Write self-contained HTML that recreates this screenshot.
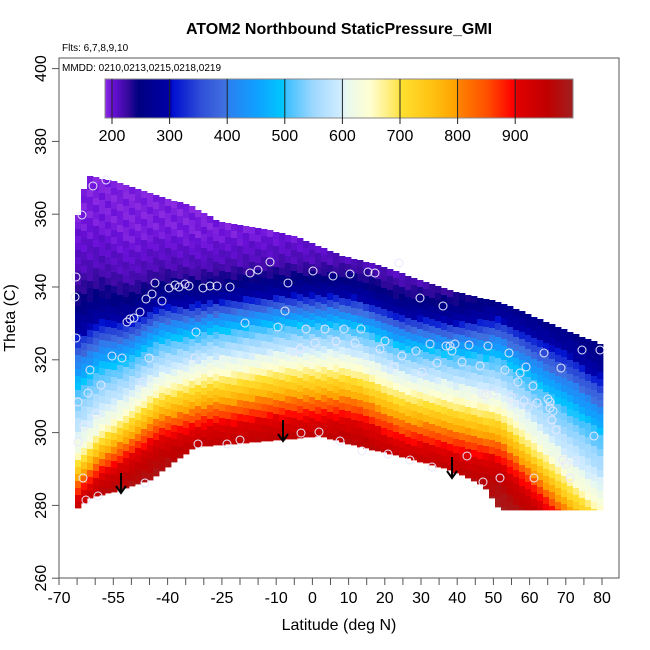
<!DOCTYPE html>
<html><head><meta charset="utf-8"><style>
html,body{margin:0;padding:0;background:#fff}
svg{display:block}
text{font-family:"Liberation Sans",sans-serif}
</style></head><body>
<svg id="s" width="650" height="650" xmlns="http://www.w3.org/2000/svg">
<g id="heat"></g>
<g id="pts" fill="none" stroke="#e8e8ff" stroke-width="1"></g>
<g stroke="#000" stroke-width="2" fill="none">
<path d="M121 473V492M116 486L121 493L126 486"/>
<path d="M283 420V440M278 434L283 441L288 434"/>
<path d="M452 457V477M447 471L452 478L457 471"/>
</g>
<rect x="59" y="58" width="560" height="520" fill="none" stroke="#555" stroke-width="1"/>
<g id="cbar"></g>
<g id="axes" stroke="#555" stroke-width="1"></g>
<text x="339" y="34" font-size="16" font-weight="bold" text-anchor="middle">ATOM2 Northbound StaticPressure_GMI</text>
<text x="62" y="51" font-size="10">Flts: 6,7,8,9,10</text>
<text x="62" y="71" font-size="10">MMDD: 0210,0213,0215,0218,0219</text>
<text x="339" y="630" font-size="16" text-anchor="middle">Latitude (deg N)</text>
<text transform="translate(15,318) rotate(-90)" font-size="16" text-anchor="middle">Theta (C)</text>
<g id="lab" font-size="16"></g>
</svg>
<script>
var NS="http://www.w3.org/2000/svg";
function el(t,a,p){var e=document.createElementNS(NS,t);for(var k in a)e.setAttribute(k,a[k]);p.appendChild(e);return e;}
function interp(tab,x){if(x<=tab[0][0])return tab[0][1];for(var i=1;i<tab.length;i++){if(x<=tab[i][0]){var a=tab[i-1],b=tab[i];return a[1]+(b[1]-a[1])*(x-a[0])/(b[0]-a[0]);}}return tab[tab.length-1][1];}
var cs=[[188,"8a2be2"],[200,"6a10d8"],[225,"3a0aa0"],[245,"000080"],[300,"0000a8"],[305,"0010d0"],[355,"3050d8"],[395,"4070e0"],[402,"2a80f0"],[450,"10a0ff"],[497,"00c8ff"],[503,"40c0ff"],[550,"a0d8ff"],[596,"d0ecff"],[605,"e8f8f0"],[648,"ffffd0"],[690,"ffe860"],[702,"ffe030"],[757,"ffc010"],[797,"ffa000"],[803,"ff8000"],[850,"ff5000"],[895,"ff0000"],[903,"e00000"],[955,"c00000"],[1000,"a02020"]];
function h2(h){return[parseInt(h.substr(0,2),16),parseInt(h.substr(2,2),16),parseInt(h.substr(4,2),16)];}
function col(v){v=Math.max(188,Math.min(1000,v));for(var i=1;i<cs.length;i++){if(v<=cs[i][0]){var a=h2(cs[i-1][1]),b=h2(cs[i][1]),t=(v-cs[i-1][0])/(cs[i][0]-cs[i-1][0]);return "rgb("+[0,1,2].map(function(k){return Math.round(a[k]+(b[k]-a[k])*t)}).join(",")+")";}}return "#a02020";}
var cb=document.getElementById("cbar");
for(var x=105;x<573;x++){var v=188+(x-105)/(468)*812;el("rect",{x:x,y:79,width:1.2,height:39,fill:col(v)},cb);}
el("rect",{x:105,y:79,width:468,height:39,fill:"none",stroke:"#888"},cb);
var lab=document.getElementById("lab");
for(var i=0;i<8;i++){var tx=112+i*57.6;el("line",{x1:tx,x2:tx,y1:79,y2:124,stroke:"#222"},cb);var t=el("text",{x:tx,y:141,"text-anchor":"middle","font-size":"16"},lab);t.textContent=200+i*100;}
var y0t=[[75,455],[100,428],[120,415],[140,400],[160,385],[210,370],[280,363],[340,362],[360,366],[400,385],[453,395],[500,405],[537,442],[570,475],[603,505]];
var sut=[[75,1.8],[100,1.6],[130,1.3],[200,1.05],[340,1.0],[453,1.1],[500,1.3],[570,1.8],[603,1.9]];
var sdt=[[75,0.8],[160,0.95],[220,1.0],[540,1.0],[603,1.2]];
var topt=[[75,270],[78,215],[82,195],[88,176],[110,180],[140,190],[165,198],[190,205],[220,222],[270,230],[300,238],[340,255],[380,265],[420,280],[460,293],[500,302],[535,317],[568,331],[603,345]];
var bott=[[75,510],[90,498],[120,490],[150,480],[195,447],[300,438],[320,436],[360,447],[400,456],[450,470],[483,485],[500,510],[603,510]];
var vt=[[-200,188],[-130,195],[-100,215],[-83,245],[-66,300],[-55,380],[-45,440],[-36,500],[-23,550],[-10,600],[0,630],[15,700],[35,800],[52,890],[72,950],[100,995]];
var hm=document.getElementById("heat");
for(var cx=75;cx<603;cx+=6){var xm=cx+3;var tp=Math.round(interp(topt,xm)),bt=Math.round(interp(bott,xm));var y0=interp(y0t,xm),su=interp(sut,xm),sd=interp(sdt,xm);
for(var y=tp;y<bt;y+=7){var h=Math.min(7,bt-y);var d=(y+3.5-y0);d=d<0?d/su:d/sd;var v=interp(vt,d)+Math.sin(cx*0.7+y*0.3)*6;
el("rect",{x:cx,y:y,width:6.4,height:h+0.4,fill:col(v)},hm);}}
var P=[[75,297],[76,338],[76,277],[82,215],[78,402],[78,442],[83,478],[88,393],[86,500],[90,370],[93,186],[98,496],[101,385],[96,414],[84,426],[106,180],[112,356],[122,358],[149,358],[195,358],[143,382],[198,444],[145,483],[127,322],[130,319],[134,318],[140,312],[146,299],[152,294],[155,283],[162,301],[169,288],[175,285],[179,287],[185,284],[189,286],[196,332],[203,288],[210,286],[217,286],[227,444],[230,287],[240,440],[245,323],[250,273],[258,270],[270,262],[278,327],[285,311],[288,283],[293,352],[301,433],[300,349],[306,329],[315,343],[313,271],[319,432],[325,329],[333,276],[336,341],[340,441],[344,329],[350,274],[355,343],[361,329],[362,451],[368,272],[375,273],[380,349],[385,341],[388,454],[394,367],[399,263],[402,356],[410,460],[416,351],[420,298],[422,372],[430,344],[432,467],[437,363],[443,306],[446,346],[450,346],[452,351],[455,344],[462,362],[467,456],[469,345],[480,366],[482,394],[483,482],[486,395],[488,346],[494,393],[500,478],[505,370],[509,353],[511,397],[514,404],[518,382],[520,373],[524,401],[526,367],[528,407],[533,386],[534,478],[537,403],[544,353],[548,399],[550,402],[550,408],[553,411],[552,420],[556,430],[561,368],[563,460],[566,464],[570,478],[575,461],[582,350],[594,436],[600,350]];
var pg=document.getElementById("pts");P.forEach(function(p){el("circle",{cx:p[0],cy:p[1],r:4},pg);});
var ax=document.getElementById("axes");
el("line",{x1:59,x2:602,y1:578,y2:578},ax);
var lbl={0:"-70",3:"-55",6:"-40",9:"-25",12:"-10",14:"0",16:"10",18:"20",20:"30",22:"40",24:"50",26:"60",28:"70",30:"80"};
for(var i=0;i<=30;i++){var tx=59+i*18.1;el("line",{x1:tx,x2:tx,y1:578,y2:585},ax);if(lbl[i]){var t=el("text",{x:tx,y:603,"text-anchor":"middle","font-size":"16"},lab);t.textContent=lbl[i];}}
el("line",{x1:59,x2:59,y1:68.6,y2:578},ax);
for(var v=260;v<=400;v+=20){var ty=287+(340-v)*3.64;el("line",{x1:52,x2:59,y1:ty,y2:ty},ax);var t=el("text",{transform:"translate(46,"+ty+") rotate(-90)","text-anchor":"middle","font-size":"16"},lab);t.textContent=v;}
</script>
</body></html>
